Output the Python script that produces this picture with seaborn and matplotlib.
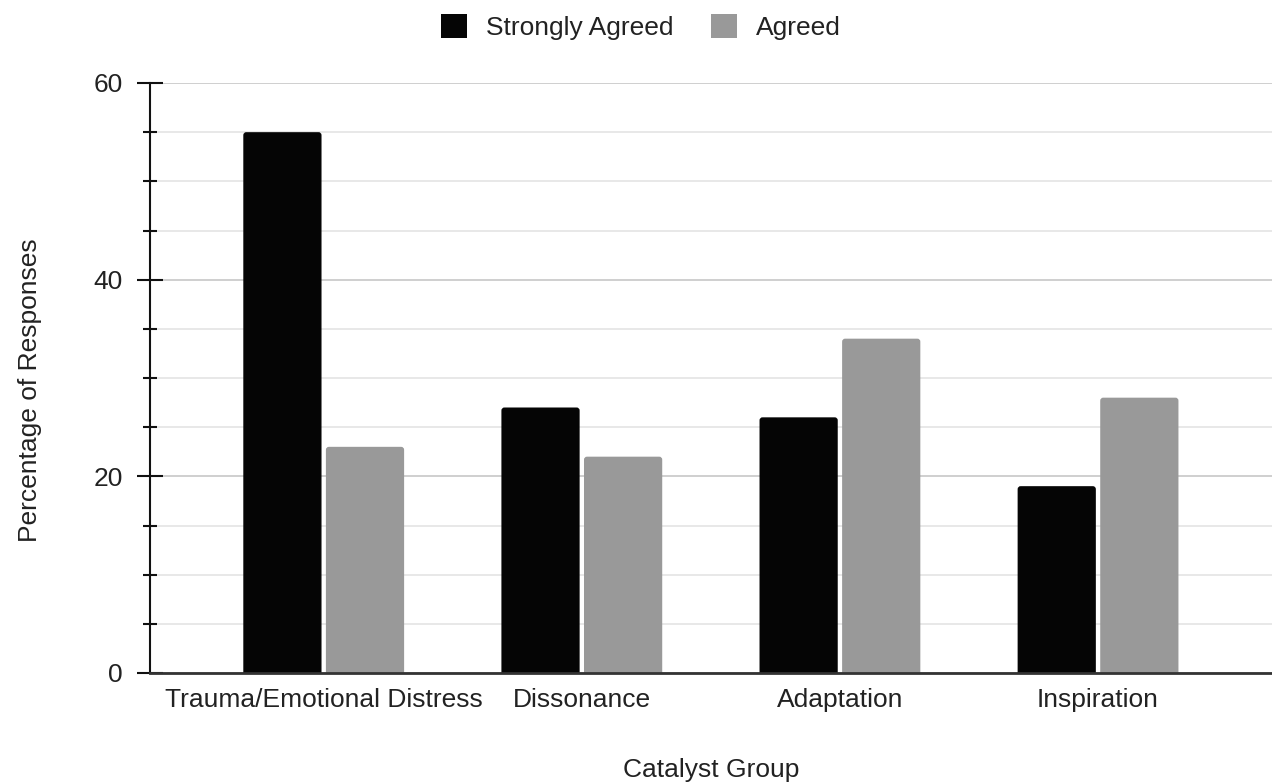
import matplotlib
matplotlib.use("Agg")
import matplotlib.pyplot as plt
from matplotlib.patches import Patch, FancyBboxPatch
from matplotlib.ticker import MultipleLocator
import pandas as pd
import seaborn as sns

# Survey results by catalyst group
categories = ["Trauma/Emotional Distress", "Dissonance", "Adaptation", "Inspiration"]
strongly_agreed = [55, 27, 26, 19]
agreed = [23, 22, 34, 28]
series_names = ["Strongly Agreed", "Agreed"]
colors = {"Strongly Agreed": "#050505", "Agreed": "#999999"}

df = pd.DataFrame({
    "Catalyst Group": categories * 2,
    "Response": [series_names[0]] * len(categories) + [series_names[1]] * len(categories),
    "Percentage": strongly_agreed + agreed,
})

sns.set_theme(style="white")
plt.rcParams["font.family"] = ["Liberation Sans", "DejaVu Sans"]

W, H = 1272, 782
fig = plt.figure(figsize=(W / 100, H / 100), dpi=100)
ax = fig.add_axes([150 / W, 1 - 673 / H, 1 - 150 / W, (673 - 83) / H])

sns.barplot(data=df, x="Catalyst Group", y="Percentage", hue="Response",
            hue_order=series_names, palette=colors, width=0.64, gap=0.053,
            saturation=1, linewidth=0, legend=False, ax=ax, zorder=3)

ax.set_ylim(0, 60)
ax.set_xlim(-0.673, 3.674)

# Give the bars slightly rounded corners
x_per_px = (3.674 + 0.673) / (W - 150)
y_per_px = 60 / (673 - 83)
for rect in list(ax.patches):
    x, y = rect.get_x(), rect.get_y()
    w, h = rect.get_width(), rect.get_height()
    rounded = FancyBboxPatch((x, y - 6 * y_per_px), w, h + 6 * y_per_px,
                             boxstyle=f"round,pad=0,rounding_size={3 * x_per_px}",
                             mutation_aspect=y_per_px / x_per_px,
                             facecolor=rect.get_facecolor(), edgecolor="none",
                             zorder=3)
    rect.remove()
    ax.add_patch(rounded)

ax.yaxis.set_major_locator(MultipleLocator(20))
ax.yaxis.set_minor_locator(MultipleLocator(5))
ax.grid(axis="y", which="major", color="#cccccc", linewidth=1.3, zorder=0)
ax.grid(axis="y", which="minor", color="#e6e6e6", linewidth=1.3, zorder=0)
ax.grid(axis="x", visible=False)
ax.set_axisbelow(True)

for side in ("top", "right"):
    ax.spines[side].set_visible(False)
ax.spines["left"].set_color("#111111")
ax.spines["left"].set_linewidth(1.5)
ax.spines["left"].set_zorder(4)
ax.spines["bottom"].set_color("#333333")
ax.spines["bottom"].set_linewidth(2)
ax.spines["bottom"].set_zorder(4)

ax.tick_params(axis="y", which="major", direction="inout", length=19, width=1.5,
               color="#111111", pad=10, labelsize=19, labelcolor="#222222", left=True)
ax.tick_params(axis="y", which="minor", direction="inout", length=10, width=1.5,
               color="#111111", left=True)
ax.tick_params(axis="x", length=0, pad=11, labelsize=19, labelcolor="#222222")

ax.set_xlabel("")
ax.set_ylabel("")
fig.text(711 / W, 1 - 770 / H, "Catalyst Group", fontsize=19, color="#222222",
         ha="center", va="center")
fig.text(30 / W, 1 - 390 / H, "Percentage of Responses", fontsize=19, color="#222222",
         ha="center", va="center", rotation=90)

handles = [Patch(facecolor=colors[n], edgecolor="none", label=n) for n in series_names]
fig.legend(handles=handles, loc="center", bbox_to_anchor=(641 / W, 1 - 27 / H),
           ncol=2, frameon=False, fontsize=19, handlelength=1.0, handleheight=1.0,
           handletextpad=0.72, columnspacing=1.4, labelcolor="#222222")

fig.savefig("out.png", dpi=100)
